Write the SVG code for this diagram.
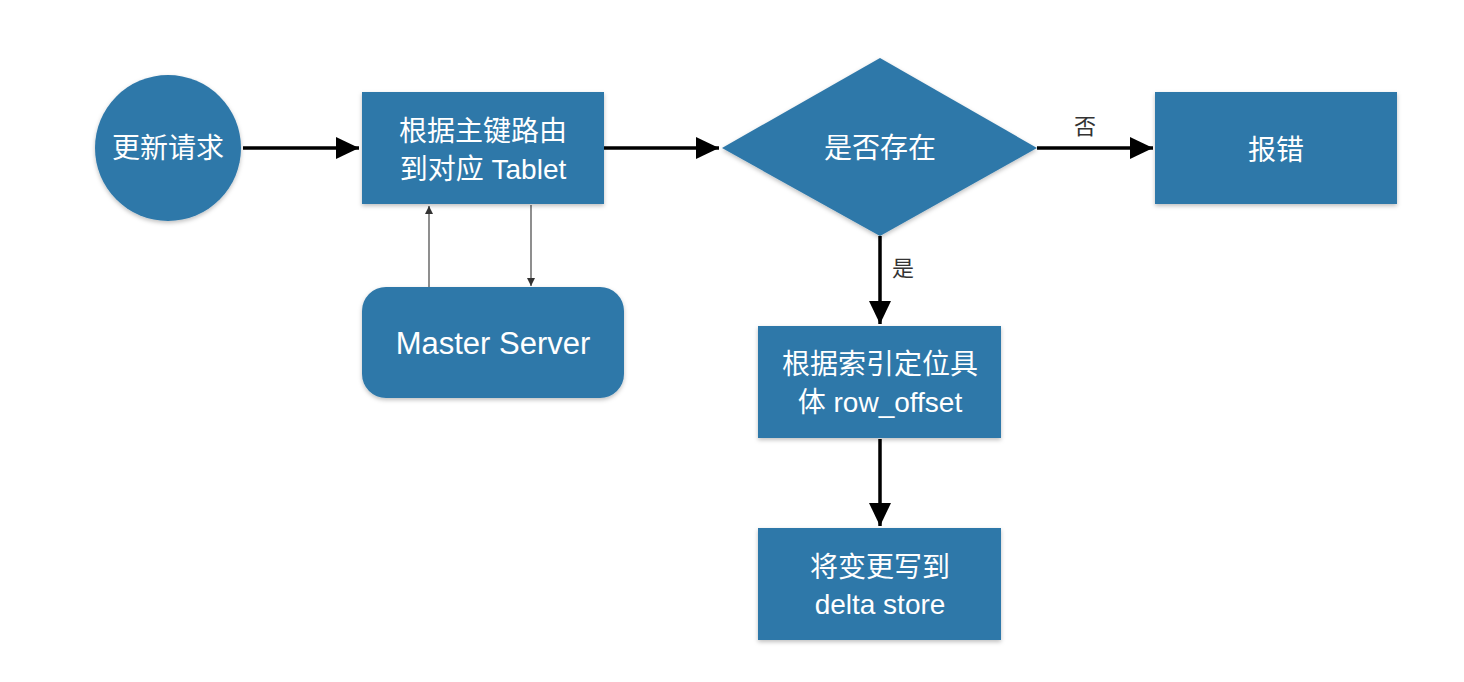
<svg xmlns="http://www.w3.org/2000/svg" width="1464" height="682" viewBox="0 0 1464 682">
<style>
.shape{fill:#2f78a9;filter:url(#sh)}
.t{fill:#ffffff;font-family:"Liberation Sans","Noto Sans CJK SC",sans-serif;font-size:28px;text-anchor:middle;dominant-baseline:central}
.lbl{fill:#333333;font-family:"Liberation Sans","Noto Sans CJK SC",sans-serif;font-size:22px;text-anchor:middle;dominant-baseline:central}
.thick{stroke:#000;stroke-width:3.5;fill:none;marker-end:url(#ah)}
.thin{stroke:#444;stroke-width:1.2;fill:none;marker-end:url(#as)}
</style>
<defs>
<filter id="sh" x="-10%" y="-10%" width="120%" height="130%">
<feDropShadow dx="0" dy="2" stdDeviation="2" flood-color="#000" flood-opacity="0.25"/>
</filter>
<marker id="ah" markerUnits="userSpaceOnUse" markerWidth="24" markerHeight="22" refX="23" refY="11" orient="auto">
<path d="M0,0 L23,11 L0,22 z" fill="#000"/>
</marker>
<marker id="as" markerUnits="userSpaceOnUse" markerWidth="8" markerHeight="8" refX="8" refY="4" orient="auto">
<path d="M0,0 L8,4 L0,8 z" fill="#333"/>
</marker>
</defs>
<rect width="1464" height="682" fill="#ffffff"/>
<g id="connectors">
<path class="thick" d="M243,148 L359,148"/>
<path class="thick" d="M604,148 L719,148"/>
<path class="thick" d="M1037,148 L1153,148"/>
<path class="thick" d="M880,236 L880,324"/>
<path class="thick" d="M880,439 L880,526"/>
<path class="thin" d="M429,287 L429,206"/>
<path class="thin" d="M531,205 L531,286"/>
<text class="lbl" x="1085" y="126">否</text>
<text class="lbl" x="903" y="268">是</text>
</g>
<g id="n-request">
<circle class="shape" cx="168" cy="148" r="73"/>
<text class="t" x="168" y="148">更新请求</text>
</g>
<g id="n-route">
<rect class="shape" x="362" y="92" width="242" height="112"/>
<text class="t" x="483" y="131">根据主键路由</text>
<text class="t" x="483" y="169">到对应 Tablet</text>
</g>
<g id="n-master">
<rect class="shape" x="362" y="287" width="262" height="111" rx="24" ry="24"/>
<text class="t" x="493" y="343" style="font-size:31px">Master Server</text>
</g>
<g id="n-exists">
<polygon class="shape" points="880,58 1037,148 880,236 722,148"/>
<text class="t" x="880" y="148">是否存在</text>
</g>
<g id="n-error">
<rect class="shape" x="1155" y="92" width="242" height="112"/>
<text class="t" x="1276" y="150">报错</text>
</g>
<g id="n-locate">
<rect class="shape" x="758" y="326" width="243" height="112"/>
<text class="t" x="880" y="364">根据索引定位具</text>
<text class="t" x="880" y="402">体 row_offset</text>
</g>
<g id="n-write">
<rect class="shape" x="758" y="528" width="243" height="112"/>
<text class="t" x="880" y="567">将变更写到</text>
<text class="t" x="880" y="604">delta store</text>
</g>
</svg>
